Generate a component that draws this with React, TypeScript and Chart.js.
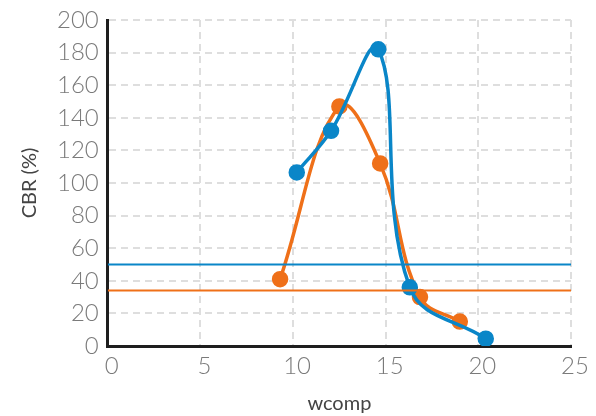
import React, { useEffect, useRef } from "react";
import { Chart, registerables } from "chart.js";

Chart.register(...registerables);

const blueX = [10.2, 12.05, 14.6, 16.3, 20.4];
const blueY = [106.5, 132, 182, 36, 4.5];
const orangeX = [9.3, 12.5, 14.7, 16.85, 19.0];
const orangeY = [41, 147, 112, 30, 15];
const blueLimit = 50;
const orangeLimit = 34;
const xRange = [0, 25];

const BLUE = "#0a86c8";
const ORANGE = "#ef7019";

export default function App() {
  const ref = useRef<HTMLCanvasElement>(null);
  useEffect(() => {
    if (!ref.current) return;
    const pts = (xs: number[], ys: number[]) => xs.map((x, i) => ({ x, y: ys[i] }));
    const tickFont = { family: "Lato", size: 24, weight: 300 as any, lineHeight: 1 };
    const titleFont = { family: "Lato", size: 20, weight: 400 as any, lineHeight: 1.2 };
    const chart = new Chart(ref.current, {
      type: "scatter",
      data: {
        datasets: [
          {
            data: xRange.map((x) => ({ x, y: blueLimit })),
            showLine: true,
            borderColor: BLUE,
            borderWidth: 2,
            pointRadius: 0,
            tension: 0,
          },
          {
            data: xRange.map((x) => ({ x, y: orangeLimit })),
            showLine: true,
            borderColor: ORANGE,
            borderWidth: 2,
            pointRadius: 0,
            tension: 0,
          },
          {
            data: pts(blueX, blueY),
            showLine: true,
            borderColor: BLUE,
            backgroundColor: BLUE,
            borderWidth: 3.5,
            pointRadius: 6.5,
            tension: 0.4,
          },
          {
            data: pts(orangeX, orangeY),
            showLine: true,
            borderColor: ORANGE,
            backgroundColor: ORANGE,
            borderWidth: 3.5,
            pointRadius: 6.5,
            tension: 0.4,
          },
        ],
      },
      options: {
        animation: false,
        responsive: true,
        maintainAspectRatio: false,
        layout: { padding: { top: 0, right: 17, left: 0, bottom: 0 } },
        plugins: { legend: { display: false }, tooltip: { enabled: false } },
        scales: {
          x: {
            type: "linear",
            min: 0,
            max: 25,
            ticks: { stepSize: 5, color: "#7a7a7a", font: tickFont, padding: 0, labelOffset: 4 },
            grid: { color: "#dedede", lineWidth: 2, drawTicks: true, tickLength: 8, tickColor: "rgba(0,0,0,0)" },
            border: { display: true, color: "#1e1e1e", width: 3, dash: [7, 5] },
            title: { display: true, text: "wcomp", color: "#444", font: titleFont, padding: { top: 14, bottom: 0 } },
          },
          y: {
            min: 0,
            max: 200,
            ticks: { stepSize: 20, color: "#7a7a7a", font: tickFont, padding: 0 },
            grid: { color: "#dedede", lineWidth: 2, drawTicks: true, tickLength: 9, tickColor: "rgba(0,0,0,0)" },
            border: { display: true, color: "#1e1e1e", width: 3, dash: [7, 5] },
            title: { display: true, text: "CBR (%)", color: "#444", font: titleFont, padding: { top: 10, bottom: 15 } },
          },
        },
      },
    });
    return () => chart.destroy();
  }, []);
  return (
    <div style={{ width: 580, height: 408 }}>
      <canvas ref={ref} />
    </div>
  );
}
